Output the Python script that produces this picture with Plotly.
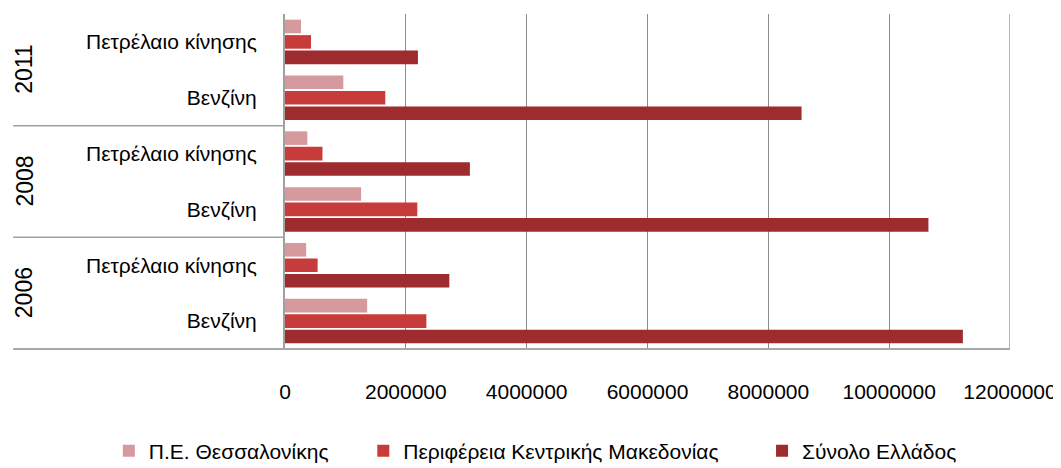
import plotly.graph_objects as go

years = ["2006", "2006", "2008", "2008", "2011", "2011"]
fuels = ["Βενζίνη", "Πετρέλαιο κίνησης", "Βενζίνη", "Πετρέλαιο κίνησης", "Βενζίνη", "Πετρέλαιο κίνησης"]
year_labels = ["2006", "2008", "2011"]

thessaloniki = [1360000, 350000, 1260000, 370000, 965000, 265000]
kentriki_makedonia = [2340000, 540000, 2190000, 620000, 1660000, 430000]
synolo_ellados = [11220000, 2720000, 10650000, 3060000, 8550000, 2200000]

series_names = ["Π.Ε. Θεσσαλονίκης", "Περιφέρεια Κεντρικής Μακεδονίας", "Σύνολο Ελλάδος"]
colors = ["#D69A9E", "#C83B3B", "#9E2B2D"]
legend_ids = ["legend", "legend2", "legend3"]
legend_x = [-0.243, 0.108, 0.658]

pos = list(range(len(fuels)))
FONT = "Liberation Sans, Arial, sans-serif"

fig = go.Figure()
# add in reverse so the first series sits on top within each group
for name, vals, col, lid in reversed(list(zip(series_names, [thessaloniki, kentriki_makedonia, synolo_ellados], colors, legend_ids))):
    fig.add_trace(go.Bar(
        y=pos, x=vals, name=name, orientation="h", legend=lid,
        marker=dict(color=col, line=dict(width=0)),
    ))

legend_common = dict(orientation="h", xref="paper", xanchor="left",
                     yref="paper", y=-0.305, yanchor="middle",
                     font=dict(size=21), itemwidth=30, bgcolor="rgba(0,0,0,0)")

# page body has an 8px margin, so the figure is sized to fit the 1061x468 window
fig.update_layout(
    width=1053, height=460,
    margin=dict(l=277, r=51, t=6, b=119, autoexpand=False),
    paper_bgcolor="white", plot_bgcolor="white",
    barmode="group", bargap=0.17, bargroupgap=0.12,
    font=dict(family=FONT, size=20, color="black"),
    showlegend=True,
    legend=dict(x=legend_x[0], **legend_common),
    legend2=dict(x=legend_x[1], **legend_common),
    legend3=dict(x=legend_x[2], **legend_common),
)

fig.update_xaxes(
    range=[0, 12000000], dtick=2000000, tick0=0,
    tickformat="d", automargin=False,
    showgrid=True, gridcolor="#8C8C8C", gridwidth=1,
    zeroline=False, showline=False,
    ticks="", ticklabelstandoff=28,
    tickfont=dict(size=21),
)

fig.update_yaxes(
    range=[-0.5, 5.5], tickmode="array", tickvals=pos, ticktext=fuels,
    automargin=False,
    showgrid=False, zeroline=False,
    showline=True, linecolor="#A0A0A0", linewidth=2,
    ticks="", ticklabelstandoff=22,
    tickfont=dict(size=21),
)

# right border at 12M
fig.add_shape(type="line", xref="x", yref="paper", x0=12000000, x1=12000000, y0=0, y1=1,
              line=dict(color="#B5B5B5", width=2))
# bottom axis line extending under category labels
fig.add_shape(type="line", xref="paper", yref="paper", x0=-0.375, x1=1, y0=0, y1=0,
              line=dict(color="#A8A8A8", width=2))
# group dividers
for k in range(1, len(year_labels)):
    yv = 2 * k - 0.5
    fig.add_shape(type="line", xref="paper", yref="y", x0=-0.375, x1=0, y0=yv, y1=yv,
                  line=dict(color="#A0A0A0", width=1.5))

for i, yl in enumerate(year_labels):
    fig.add_annotation(text=yl, xref="paper", yref="y", x=-0.36, y=2 * i + 0.5,
                       textangle=-90, showarrow=False, font=dict(size=23, family=FONT),
                       xanchor="center", yanchor="middle")

fig.write_html("out.html")
